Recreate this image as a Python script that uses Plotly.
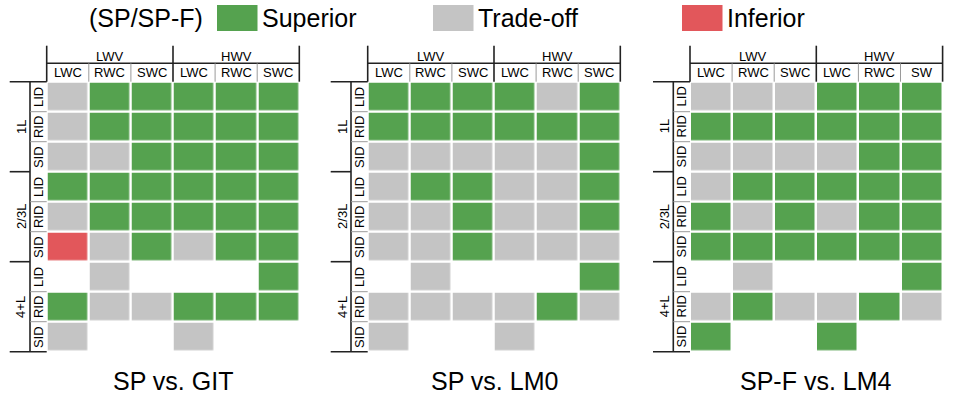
import plotly.graph_objects as go

# ---------------- data ----------------
col_groups = ["LWV", "HWV"]
col_labels = [["LWC", "RWC", "SWC", "LWC", "RWC", "SWC"],
              ["LWC", "RWC", "SWC", "LWC", "RWC", "SWC"],
              ["LWC", "RWC", "SWC", "LWC", "RWC", "SW"]]
row_groups = ["1L", "2/3L", "4+L"]
row_labels = ["LID", "RID", "SID"] * 3
titles = ["SP vs. GIT", "SP vs. LM0", "SP-F vs. LM4"]
legend_title = "(SP/SP-F)"
legend_names = ["Superior", "Trade-off", "Inferior"]

# S = superior, T = trade-off, I = inferior, "" = no result
sp_vs_git = [
    ["T", "S", "S", "S", "S", "S"],
    ["T", "S", "S", "S", "S", "S"],
    ["T", "T", "S", "S", "S", "S"],
    ["S", "S", "S", "S", "S", "S"],
    ["T", "S", "S", "S", "S", "S"],
    ["I", "T", "S", "T", "S", "S"],
    ["",  "T", "",  "",  "",  "S"],
    ["S", "T", "T", "S", "S", "S"],
    ["T", "",  "",  "T", "",  ""],
]
sp_vs_lm0 = [
    ["S", "S", "S", "S", "T", "S"],
    ["S", "S", "S", "S", "S", "S"],
    ["T", "T", "T", "T", "T", "S"],
    ["T", "S", "S", "T", "T", "S"],
    ["T", "T", "S", "T", "T", "S"],
    ["T", "T", "S", "T", "T", "T"],
    ["",  "T", "",  "",  "",  "S"],
    ["T", "T", "T", "T", "S", "T"],
    ["T", "",  "",  "T", "",  ""],
]
spf_vs_lm4 = [
    ["T", "T", "T", "S", "S", "S"],
    ["S", "S", "S", "S", "S", "S"],
    ["T", "T", "T", "T", "S", "S"],
    ["T", "S", "S", "S", "S", "S"],
    ["S", "T", "S", "T", "S", "S"],
    ["S", "S", "S", "S", "S", "S"],
    ["",  "T", "",  "",  "",  "S"],
    ["T", "S", "T", "T", "S", "T"],
    ["S", "",  "",  "S", "",  ""],
]
panels = [sp_vs_git, sp_vs_lm0, spf_vs_lm4]

# ---------------- style ----------------
GREEN = "#55A24F"
GRAY = "#C4C4C4"
RED = "#E2575B"
DARK = "#222222"
THIN = "#9A9A9A"
FONT = "Liberation Sans, Arial, Helvetica, sans-serif"
W, H = 954, 399

code_to_z = {"T": 0, "S": 1, "I": 2, "": None}
colorscale = [[0.0, GRAY], [0.5, GREEN], [1.0, RED]]

def X(px):
    return px / W

def Y(py):
    return 1 - py / H

grid_left = [46.7, 367.7, 690.0]
cw = 42.1
rh = 30.0
top = 81.7
ncol, nrow = 6, 9
gw = cw * ncol
bottom = top + rh * nrow

fig = go.Figure()
shapes = []
annots = []

def line(x0, y0, x1, y1, color=DARK, width=1.6):
    shapes.append(dict(type="line", xref="paper", yref="paper",
                       x0=X(x0), y0=Y(y0), x1=X(x1), y1=Y(y1),
                       line=dict(color=color, width=width)))

def text(x, y, s, size=13, angle=0, xanchor="center"):
    annots.append(dict(x=X(x), y=Y(y), xref="paper", yref="paper", text=s,
                       showarrow=False, textangle=angle, xanchor=xanchor,
                       yanchor="middle", font=dict(family=FONT, size=size, color="#000")))

for p, data in enumerate(panels):
    gx = grid_left[p]
    ax = "" if p == 0 else str(p + 1)
    z = [[code_to_z[c] for c in row] for row in data]
    fig.add_trace(go.Heatmap(
        z=z, x=list(range(ncol)), y=list(range(nrow)),
        colorscale=colorscale, zmin=0, zmax=2, showscale=False,
        xgap=2.5, ygap=2.5, hoverinfo="skip",
        xaxis="x" + ax, yaxis="y" + ax))
    fig.update_layout(**{
        "xaxis" + ax: dict(domain=[X(gx), X(gx + gw)], range=[-0.5, ncol - 0.5],
                           visible=False, fixedrange=True, anchor="y" + ax),
        "yaxis" + ax: dict(domain=[Y(bottom), Y(top)], range=[nrow - 0.5, -0.5],
                           visible=False, fixedrange=True, anchor="x" + ax),
    })

    # column header
    hy0, hy1 = 45.7, 63.3
    for k in (0, 3, 6):
        line(gx + k * cw, hy0, gx + k * cw, top)
    line(gx, hy1, gx + gw, hy1)
    for k in (1, 2, 4, 5):
        line(gx + k * cw, hy1, gx + k * cw, top, color=THIN, width=1)
    for g, name in enumerate(col_groups):
        text(gx + (g * 3 + 1.5) * cw, 56.0, name)
    for i, lab in enumerate(col_labels[p]):
        text(gx + (i + 0.5) * cw, 72.5, lab)

    # row header
    vx = gx - 16.7
    lx = gx - 37
    line(vx, top, vx, bottom)
    line(lx, top, gx, top)
    line(lx, top + 3 * rh, vx, top + 3 * rh)
    line(lx, top + 6 * rh, vx, top + 6 * rh)
    line(lx, bottom, gx, bottom)
    for r in range(1, nrow):
        if r % 3:
            line(vx, top + r * rh, gx, top + r * rh, color=THIN, width=1)
    for r, lab in enumerate(row_labels):
        text(gx - 8.3, top + (r + 0.5) * rh, lab, angle=-90)
    for g, name in enumerate(row_groups):
        text(gx - 25.5, top + (g * 3 + 1.5) * rh, name, angle=-90)

    # title
    text(gx + gw / 2, 380.5, titles[p], size=25)

# legend
text(87, 18.5, legend_title, size=25, xanchor="left")
legend_boxes = [(217, GREEN), (433, GRAY), (682, RED)]
for (bx, col), name in zip(legend_boxes, legend_names):
    shapes.append(dict(type="rect", xref="paper", yref="paper",
                       x0=X(bx), x1=X(bx + 40.5), y0=Y(31), y1=Y(5),
                       fillcolor=col, line=dict(width=0)))
    text(bx + 43, 18.5, name, size=25, xanchor="left")

fig.update_layout(
    width=W, height=H, autosize=False,
    margin=dict(l=0, r=0, t=0, b=0),
    paper_bgcolor="white", plot_bgcolor="rgba(0,0,0,0)",
    showlegend=False,
    shapes=shapes, annotations=annots,
    font=dict(family=FONT),
)

fig.write_html(
    "out.html",
    config={"staticPlot": True},
    post_script="document.body.style.margin='0px';document.body.style.overflow='hidden';",
)
